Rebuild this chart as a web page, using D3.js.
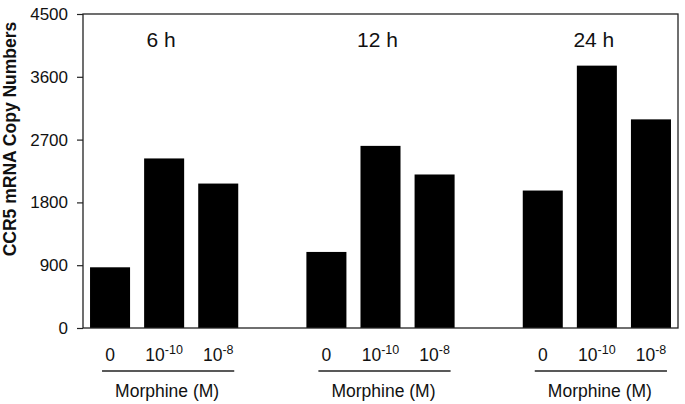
<!DOCTYPE html>
<html>
  <head>
    <title>CCR5 mRNA</title>
    <script src="https://d3js.org/d3.v7.min.js"></script>
    <style>
      body { margin: 0; background: #fff; }
      text { font-family: "Liberation Sans", Arial, sans-serif; fill: #111; }
    </style>
  </head>
  <body>
    <svg id="plot" width="685" height="404"></svg>

    <script>
      // data
      var times = ["6 h", "12 h", "24 h"];
      var doses = ["0", "-10", "-8"]; // exponent of 10, "0" = no morphine
      var copies6h = [870, 2430, 2070];
      var copies12h = [1090, 2610, 2200];
      var copies24h = [1970, 3760, 2990];
      var yTicks = [0, 900, 1800, 2700, 3600, 4500];
      var groupLabel = "Morphine (M)";
      var yTitle = "CCR5 mRNA Copy Numbers";

      var series = [copies6h, copies12h, copies24h];
      var rows = [];
      times.forEach(function (t, i) {
        doses.forEach(function (d, j) {
          rows.push({ time: t, dose: d, value: series[i][j] });
        });
      });

      var svg = d3.select("#plot");
      var plotLeft = 83, plotRight = 678, plotTop = 14, plotBottom = 328;

      var x0 = d3.scaleBand().domain(times).range([plotLeft, plotRight])
        .paddingInner(0.25).paddingOuter(0);
      var x1 = d3.scaleBand().domain(doses).range([0, x0.bandwidth()])
        .paddingInner(0.26).paddingOuter(0.13);
      var y = d3.scaleLinear().domain([0, 4500]).range([plotBottom, plotTop]);

      // bars
      svg.append("g")
        .selectAll("rect")
        .data(rows)
        .join("rect")
        .attr("x", d => x0(d.time) + x1(d.dose))
        .attr("y", d => y(d.value))
        .attr("width", x1.bandwidth())
        .attr("height", d => y(0) - y(d.value))
        .style("fill", "#000");

      // frame
      svg.append("rect")
        .attr("x", plotLeft).attr("y", plotTop)
        .attr("width", plotRight - plotLeft).attr("height", plotBottom - plotTop)
        .style("fill", "none")
        .style("stroke", "#222")
        .style("stroke-width", 1.3);

      // y axis
      var yAxis = svg.append("g")
        .attr("transform", "translate(" + plotLeft + ",0)")
        .call(d3.axisLeft(y).tickValues(yTicks).tickSize(6).tickPadding(9).tickFormat(d3.format("d")));
      yAxis.select(".domain").remove();
      yAxis.selectAll("line").style("stroke", "#222").style("stroke-width", 1.2);
      yAxis.selectAll("text")
        .style("font-family", '"Liberation Sans", Arial, sans-serif')
        .style("font-size", "17px")
        .style("fill", "#111");

      svg.append("text")
        .attr("transform", "translate(15.5,139) rotate(-90)")
        .attr("text-anchor", "middle")
        .style("font-size", "17.5px")
        .style("font-weight", "bold")
        .text(yTitle);

      // time labels inside the frame
      svg.append("g")
        .selectAll("text")
        .data(times)
        .join("text")
        .attr("x", d => x0(d) + x0.bandwidth() / 2 - 3)
        .attr("y", 47)
        .attr("text-anchor", "middle")
        .style("font-size", "21px")
        .text(d => d);

      // dose labels under bars
      var doseText = svg.append("g")
        .selectAll("text")
        .data(rows)
        .join("text")
        .attr("x", d => x0(d.time) + x1(d.dose) + x1.bandwidth() / 2)
        .attr("y", 361)
        .attr("text-anchor", "middle")
        .style("font-size", "17.5px");
      doseText.each(function (d) {
        var t = d3.select(this);
        if (d.dose === "0") {
          t.text("0");
        } else {
          t.append("tspan").text("10");
          t.append("tspan").attr("dy", -7).style("font-size", "12.5px").text(d.dose);
        }
      });

      // group underline + label
      var grp = svg.append("g").selectAll("g").data(times).join("g");
      grp.append("line")
        .attr("x1", d => x0(d) + x1(doses[0]) + 12)
        .attr("x2", d => x0(d) + x1(doses[2]) + x1.bandwidth() - 4)
        .attr("y1", 371).attr("y2", 371)
        .style("stroke", "#222")
        .style("stroke-width", 1.3);
      grp.append("text")
        .attr("x", d => x0(d) + x0.bandwidth() / 2 + 3)
        .attr("y", 397)
        .attr("text-anchor", "middle")
        .style("font-size", "17.5px")
        .text(groupLabel);
    </script>
  </body>
</html>
